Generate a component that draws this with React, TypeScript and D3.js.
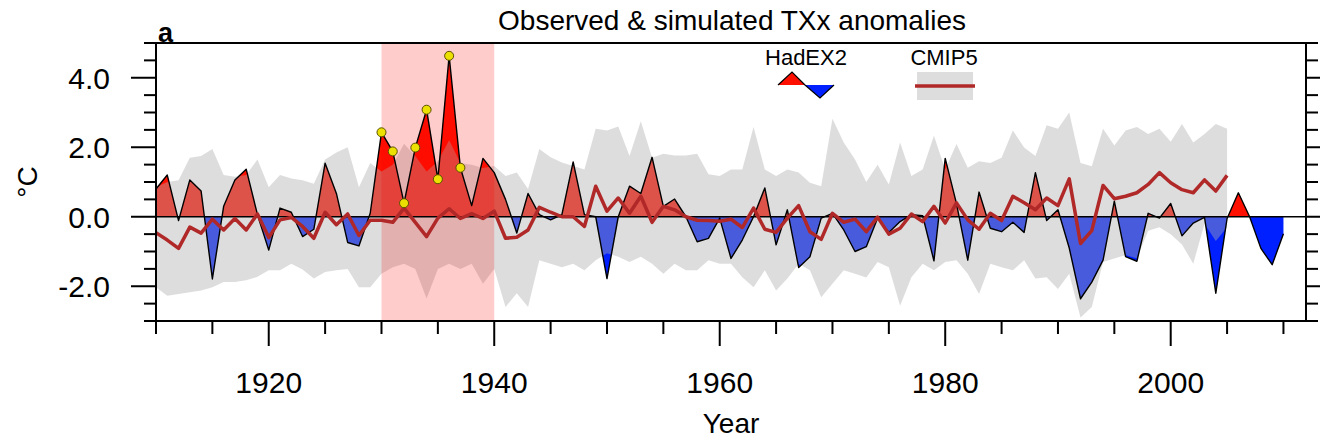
import React, { useRef, useEffect } from 'react';
import * as d3 from 'd3';

const FONT = '"Liberation Sans", Arial, Helvetica, sans-serif';

// HadEX2 observed TXx anomaly, one value per year from 1910
const firstYear = 1910;
const hadex = [
  0.80, 1.20, -0.11, 1.06, 0.74, -1.79, 0.30, 1.06, 1.37, 0.06,
  -0.96, 0.25, 0.13, -0.57, -0.36, 1.54, 0.67, -0.74, -0.84, 0.10,
  2.43, 1.88, 0.39, 1.99, 3.08, 1.08, 4.63, 1.41, 0.32, 1.68,
  1.27, 0.50, -0.47, 0.67, 0.06, -0.09, 0.06, 1.58, 0.06, 0.00,
  -1.78, 0.00, 0.88, 0.67, 1.71, 0.30, 0.51, 0.00, -0.72, -0.62,
  -0.04, -1.20, -0.67, 0.00, 0.83, -0.81, 0.20, -1.46, -1.15, -0.04,
  0.10, -0.38, -1.00, -0.86, -0.04, -0.45, -0.14, 0.06, 0.03, -1.27,
  1.68, 0.38, -1.25, 0.71, -0.33, -0.43, -0.16, -0.45, 1.27, -0.11,
  0.20, -0.90, -2.36, -1.88, -1.25, 0.45, -1.15, -1.28, 0.10, -0.04,
  0.38, -0.55, -0.18, -0.02, -2.20, -0.05, 0.69, 0.00, -0.91, -1.38,
  -0.49,
];

// CMIP5 multi-model mean and spread, 1910-2005
const cmipMean = [
  -0.46, -0.67, -0.91, -0.30, -0.47, -0.07, -0.38, -0.05, -0.38, 0.08,
  -0.60, -0.09, -0.02, -0.28, -0.62, 0.13, -0.23, 0.08, -0.54, -0.10,
  -0.10, -0.16, 0.25, -0.16, -0.57, -0.04, 0.23, -0.05, 0.09, -0.05,
  0.16, -0.62, -0.59, -0.38, 0.27, 0.13, 0.00, 0.00, -0.28, 0.88,
  0.16, 0.54, 0.10, 0.59, -0.16, 0.30, 0.20, 0.00, -0.10, -0.11,
  -0.13, -0.07, -0.31, 0.25, -0.36, -0.45, -0.04, 0.32, -0.43, -0.65,
  0.10, -0.16, -0.07, -0.43, -0.01, -0.50, -0.33, 0.08, -0.14, 0.30,
  -0.18, 0.40, -0.09, -0.36, 0.10, -0.11, 0.59, 0.40, 0.20, 0.54,
  0.32, 1.09, -0.77, -0.40, 0.90, 0.52, 0.59, 0.69, 0.93, 1.27,
  0.98, 0.78, 0.69, 1.06, 0.74, 1.19,
];
const cmipUpper = [
  0.85, 1.00, 1.05, 1.70, 1.75, 1.95, 1.20, 1.15, 1.20, 1.65,
  0.85, 1.20, 1.10, 1.05, 0.95, 1.65, 1.85, 2.00, 0.85, 1.55,
  1.30, 1.50, 2.10, 1.75, 1.30, 1.60, 2.20, 1.55, 1.50, 1.40,
  1.46, 1.17, 1.27, 0.80, 1.95, 1.71, 1.56, 1.46, 1.36, 2.53,
  2.48, 2.60, 1.75, 2.75, 1.70, 1.81, 1.76, 1.76, 1.81, 1.22,
  1.17, 1.36, 1.36, 2.58, 1.36, 1.17, 1.36, 1.27, 0.98, 0.88,
  2.82, 2.14, 1.65, 1.00, 1.50, 0.93, 2.14, 1.17, 1.36, 2.33,
  1.36, 2.09, 1.41, 1.60, 1.55, 1.70, 2.48, 1.99, 1.75, 2.63,
  2.53, 3.00, 1.55, 1.45, 2.53, 2.05, 2.48, 2.58, 2.38, 2.53,
  2.16, 2.67, 2.14, 2.38, 2.67, 2.53,
];
const cmipLower = [
  -2.03, -2.27, -2.22, -2.17, -2.12, -2.03, -1.88, -1.88, -1.83, -1.73,
  -1.54, -1.54, -1.35, -1.52, -1.78, -1.59, -1.54, -1.50, -2.03, -2.03,
  -1.64, -1.45, -1.35, -1.50, -2.35, -1.50, -1.35, -1.50, -1.35, -1.93,
  -1.50, -2.60, -2.20, -2.60, -1.25, -1.35, -1.45, -1.35, -1.54, -1.25,
  -1.05, -1.15, -1.30, -1.15, -1.35, -1.64, -1.35, -1.54, -1.54, -1.25,
  -1.35, -1.35, -1.74, -2.03, -1.54, -2.12, -1.78, -1.35, -1.54, -2.32,
  -1.93, -1.54, -1.64, -1.75, -1.30, -1.45, -2.56, -1.74, -1.35, -1.54,
  -1.30, -1.25, -1.64, -2.22, -1.35, -1.45, -1.54, -1.25, -1.78, -1.74,
  -2.08, -1.64, -2.90, -2.60, -1.30, -1.20, -1.10, -1.20, -0.40, -0.30,
  -0.50, -0.80, -1.35, -0.20, -0.70, -0.30,
];

const markedYears = [1930, 1931, 1932, 1933, 1934, 1935, 1936, 1937];
const shadedYears = [1930, 1940];
const yMajor = [-2, 0, 2, 4];
const yLabels = ['-2.0', '0.0', '2.0', '4.0'];
const xMajor = [1920, 1940, 1960, 1980, 2000];
const xLabels = ['1920', '1940', '1960', '1980', '2000'];

const RED = '#ff1000';
const BLUE = '#0020ff';
const SPREAD = 'rgb(175,175,175)';

const App = () => {
  const svgRef = useRef(null);

  useEffect(() => {
    const svgWidth = 1320;
    const svgHeight = 440;
    const margin = { top: 43, right: 14, bottom: 119, left: 156 };

    const svg = d3.select(svgRef.current)
      .attr('width', svgWidth)
      .attr('height', svgHeight);
    svg.selectAll('*').remove();

    const x = d3.scaleLinear().domain([1910, 2012]).range([margin.left, svgWidth - margin.right]);
    const y = d3.scaleLinear().domain([-3, 5]).range([svgHeight - margin.bottom, margin.top]);

    const obs = hadex.map((v, i) => ({ year: firstYear + i, v }));
    const sim = cmipMean.map((m, i) => ({ year: firstYear + i, m, lo: cmipLower[i], hi: cmipUpper[i] }));

    const [x0, x1] = x.range();
    const yTop = y(5);
    const yBot = y(-3);
    const yZero = y(0);

    const defs = svg.append('defs');
    defs.append('clipPath').attr('id', 'plotClip').append('rect')
      .attr('x', x0).attr('y', yTop).attr('width', x1 - x0).attr('height', yBot - yTop);
    defs.append('clipPath').attr('id', 'aboveZero').append('rect')
      .attr('x', x0).attr('y', yTop).attr('width', x1 - x0).attr('height', yZero - yTop);
    defs.append('clipPath').attr('id', 'belowZero').append('rect')
      .attr('x', x0).attr('y', yZero).attr('width', x1 - x0).attr('height', yBot - yZero);

    const plot = svg.append('g').attr('clip-path', 'url(#plotClip)');

    // observed anomaly, red above zero and blue below
    const obsArea = d3.area().x((d) => x(d.year)).y0(yZero).y1((d) => y(d.v));
    plot.append('path').datum(obs).attr('d', obsArea)
      .attr('fill', RED).attr('clip-path', 'url(#aboveZero)');
    plot.append('path').datum(obs).attr('d', obsArea)
      .attr('fill', BLUE).attr('clip-path', 'url(#belowZero)');

    // model spread
    const band = d3.area().x((d) => x(d.year)).y0((d) => y(d.lo)).y1((d) => y(d.hi));
    plot.append('path').datum(sim).attr('d', band)
      .attr('fill', SPREAD).attr('fill-opacity', 0.42);

    // 1930s highlight
    plot.append('rect')
      .attr('x', x(shadedYears[0])).attr('y', yTop)
      .attr('width', x(shadedYears[1]) - x(shadedYears[0])).attr('height', yBot - yTop)
      .attr('fill', 'rgb(255,0,0)').attr('fill-opacity', 0.2);

    plot.append('path').datum(obs)
      .attr('d', d3.line().x((d) => x(d.year)).y((d) => y(d.v)))
      .attr('fill', 'none').attr('stroke', '#000').attr('stroke-width', 1.4)
      .attr('stroke-linejoin', 'round');

    plot.append('line')
      .attr('x1', x0).attr('x2', x1).attr('y1', yZero).attr('y2', yZero)
      .attr('stroke', '#000').attr('stroke-width', 1.5);

    plot.append('path').datum(sim)
      .attr('d', d3.line().x((d) => x(d.year)).y((d) => y(d.m)))
      .attr('fill', 'none').attr('stroke', '#b02828').attr('stroke-width', 3.5)
      .attr('stroke-linejoin', 'round');

    plot.selectAll('circle.hot')
      .data(obs.filter((d) => markedYears.includes(d.year)))
      .enter().append('circle')
      .attr('cx', (d) => x(d.year)).attr('cy', (d) => y(d.v)).attr('r', 4.5)
      .attr('fill', '#ece000').attr('stroke', '#5a5000').attr('stroke-width', 1);

    // frame
    svg.append('rect')
      .attr('x', x0).attr('y', yTop).attr('width', x1 - x0).attr('height', yBot - yTop)
      .attr('fill', 'none').attr('stroke', '#000').attr('stroke-width', 2);

    const tickG = svg.append('g').attr('stroke', '#000').attr('stroke-width', 2);
    const yMinor = d3.range(-3, 5.01, 0.5);
    yMinor.forEach((v) => {
      const len = yMajor.includes(v) ? 25 : 12;
      tickG.append('line').attr('x1', x0 - len).attr('x2', x0).attr('y1', y(v)).attr('y2', y(v));
      tickG.append('line').attr('x1', x1).attr('x2', x1 + len).attr('y1', y(v)).attr('y2', y(v));
    });
    const xMinor = d3.range(1910, 2011, 5);
    xMinor.forEach((yr) => {
      const len = xMajor.includes(yr) ? 25 : 13;
      tickG.append('line').attr('x1', x(yr)).attr('x2', x(yr)).attr('y1', yBot).attr('y2', yBot + len);
    });

    svg.selectAll('text.ylab').data(yMajor).enter().append('text')
      .attr('x', x0 - 46).attr('y', (d) => y(d)).attr('dy', '0.36em')
      .attr('text-anchor', 'end').attr('font-family', FONT).attr('font-size', 30)
      .text((d, i) => yLabels[i]);

    svg.selectAll('text.xlab').data(xMajor).enter().append('text')
      .attr('x', (d) => x(d)).attr('y', yBot + 72)
      .attr('text-anchor', 'middle').attr('font-family', FONT).attr('font-size', 30)
      .text((d, i) => xLabels[i]);

    svg.append('text').attr('x', (x0 + x1) / 2 + 1).attr('y', 30)
      .attr('text-anchor', 'middle').attr('font-family', FONT).attr('font-size', 28)
      .text('Observed & simulated TXx anomalies');

    svg.append('text').attr('x', x0 + 2).attr('y', yTop - 1)
      .attr('font-family', FONT).attr('font-size', 27).attr('font-weight', 'bold')
      .text('a');

    svg.append('text').attr('x', (x0 + x1) / 2).attr('y', 433)
      .attr('text-anchor', 'middle').attr('font-family', FONT).attr('font-size', 28)
      .text('Year');

    svg.append('text')
      .attr('transform', `translate(37, ${(yTop + yBot) / 2}) rotate(-90)`)
      .attr('text-anchor', 'middle').attr('font-family', FONT).attr('font-size', 28)
      .text('°C');

    // legend
    const leg = svg.append('g');
    leg.append('text').attr('x', 806).attr('y', 65).attr('text-anchor', 'middle')
      .attr('font-family', FONT).attr('font-size', 22).text('HadEX2');
    leg.append('polygon').attr('points', '778,85 792,72 805,85').attr('fill', RED);
    leg.append('polygon').attr('points', '805,85 820,98 834,85').attr('fill', BLUE);
    leg.append('polyline').attr('points', '778,85 792,72 805,85 820,98 834,85')
      .attr('fill', 'none').attr('stroke', '#000').attr('stroke-width', 1.2);

    leg.append('text').attr('x', 944).attr('y', 65).attr('text-anchor', 'middle')
      .attr('font-family', FONT).attr('font-size', 22).text('CMIP5');
    leg.append('rect').attr('x', 917).attr('y', 72).attr('width', 56).attr('height', 28)
      .attr('fill', SPREAD).attr('fill-opacity', 0.42);
    leg.append('line').attr('x1', 915).attr('x2', 975).attr('y1', 86).attr('y2', 86)
      .attr('stroke', '#b02828').attr('stroke-width', 3.5);
  }, []);

  return (
    <div>
      <svg ref={svgRef} style={{ position: 'absolute', left: 0, top: 0 }} />
    </div>
  );
};

export default App;
